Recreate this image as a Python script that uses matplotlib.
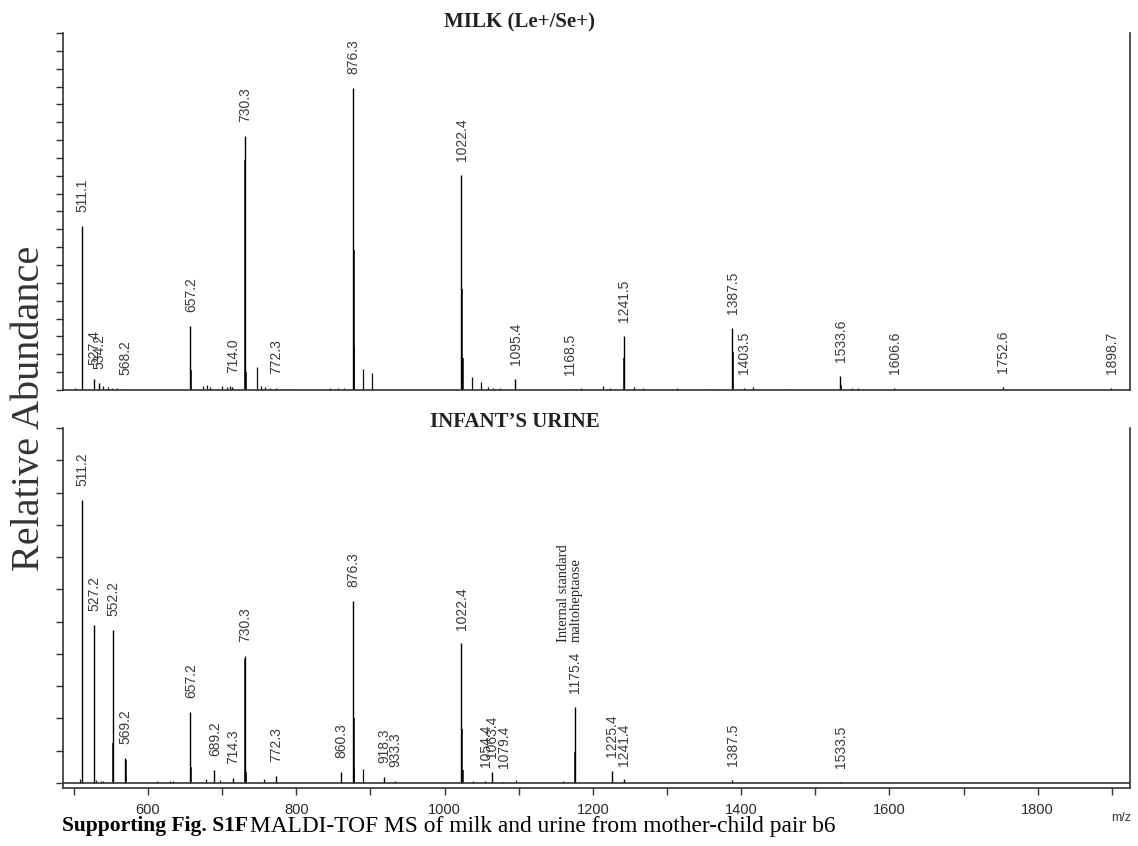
import matplotlib
matplotlib.use('Agg')
import matplotlib.pyplot as plt
from matplotlib.ticker import FixedLocator, MultipleLocator, NullFormatter

# ---- milk (Le+/Se+) spectrum ----
milk_mz = [511.1, 527.4, 534.2, 568.2, 657.2, 714.0, 730.3, 772.3, 876.3, 1022.4,
           1095.4, 1168.5, 1241.5, 1387.5, 1403.5, 1533.6, 1606.6, 1752.6, 1898.7]
milk_int = [0.460, 0.030, 0.020, 0.004, 0.179, 0.008, 0.712, 0.005, 0.845, 0.602,
            0.031, 0.004, 0.151, 0.173, 0.006, 0.039, 0.005, 0.008, 0.006]
milk_iso_mz = [658.2, 731.3, 732.3, 877.3, 878.3, 1023.4, 1024.4, 1242.5, 1388.5, 1534.6]
milk_iso_int = [0.056, 0.644, 0.050, 0.392, 0.120, 0.282, 0.089, 0.089, 0.107, 0.015]
milk_minor_mz = [501, 508, 540, 546, 552, 558, 674, 680, 684, 700, 706, 710, 746.6, 752,
                 758, 765, 782, 798, 846, 856, 864, 890.4, 902.5, 1037.4, 1049.6, 1058,
                 1066, 1075, 1183.7, 1213.7, 1222.7, 1256, 1268, 1313, 1355, 1362, 1370,
                 1415.6, 1460, 1550, 1557]
milk_minor_int = [0.005, 0.004, 0.010, 0.008, 0.006, 0.005, 0.010, 0.015, 0.008, 0.010,
                  0.008, 0.012, 0.065, 0.010, 0.008, 0.006, 0.004, 0.004, 0.005, 0.006,
                  0.006, 0.058, 0.047, 0.037, 0.023, 0.008, 0.007, 0.006, 0.005, 0.012,
                  0.006, 0.008, 0.006, 0.007, 0.004, 0.004, 0.004, 0.008, 0.003, 0.006,
                  0.006]

# ---- infant's urine spectrum ----
urine_mz = [511.2, 527.2, 552.2, 569.2, 657.2, 689.2, 714.3, 730.3, 772.3, 860.3, 876.3,
            918.3, 933.3, 1022.4, 1054.4, 1063.4, 1079.4, 1175.4, 1225.4, 1241.4, 1387.5,
            1533.5]
urine_int = [0.797, 0.445, 0.431, 0.070, 0.199, 0.037, 0.013, 0.359, 0.020, 0.032, 0.514,
             0.018, 0.005, 0.393, 0.006, 0.030, 0.004, 0.215, 0.035, 0.010, 0.008, 0.004]
urine_iso_mz = [553.2, 570.2, 658.2, 731.3, 732.3, 877.3, 878.3, 1023.4, 1024.4, 1176.4]
urine_iso_int = [0.112, 0.065, 0.046, 0.350, 0.030, 0.182, 0.041, 0.151, 0.037, 0.088]
urine_minor_mz = [508, 530, 536, 540, 611.7, 630, 634, 678, 697, 756.5, 890.4, 1038, 1097,
                  1160]
urine_minor_int = [0.010, 0.008, 0.006, 0.005, 0.006, 0.005, 0.005, 0.010, 0.008, 0.012,
                   0.039, 0.006, 0.008, 0.005]

xlim = (485.4, 1924.5)
label_color = '#3a3a3a'

fig = plt.figure(figsize=(11.38, 8.46), dpi=100)
ax_top = fig.add_axes([63 / 1138, 1 - 390 / 846, 1067 / 1138, 357 / 846])
ax_bot = fig.add_axes([63 / 1138, 1 - 788 / 846, 1067 / 1138, 360 / 846])


def draw_spectrum(ax, mz, inten, iso_mz, iso_int, minor_mz, minor_int):
    ax.vlines(minor_mz, 0, minor_int, color='#111111', lw=0.9)
    ax.vlines(iso_mz, 0, iso_int, color='black', lw=1.1)
    ax.vlines(mz, 0, inten, color='black', lw=1.0)
    for m, h in zip(mz, inten):
        ax.annotate(f'{m:.1f}', (m, h), xytext=(0.5, 10), textcoords='offset points',
                    rotation=90, ha='center', va='bottom', fontsize=10,
                    color=label_color, family='Liberation Sans')


def style_axes(ax):
    ax.set_xlim(*xlim)
    ax.spines['top'].set_visible(False)
    for s in ('left', 'right', 'bottom'):
        ax.spines[s].set_color('#333333')
        ax.spines[s].set_linewidth(1.2)
    ax.yaxis.set_major_formatter(NullFormatter())
    ax.tick_params(axis='y', which='both', direction='out', length=5, width=1,
                   color='#333333', right=False)


draw_spectrum(ax_top, milk_mz, milk_int, milk_iso_mz, milk_iso_int,
              milk_minor_mz, milk_minor_int)
style_axes(ax_top)
ax_top.set_ylim(0, 1)
ax_top.yaxis.set_major_locator(FixedLocator([k / 20 for k in range(0, 21, 5)]))
ax_top.yaxis.set_minor_locator(FixedLocator([k / 20 for k in range(21) if k % 5]))
ax_top.tick_params(axis='x', which='both', bottom=False, labelbottom=False)

draw_spectrum(ax_bot, urine_mz, urine_int, urine_iso_mz, urine_iso_int,
              urine_minor_mz, urine_minor_int)
style_axes(ax_bot)
ax_bot.axhline(0, color='#333333', lw=1.2)
ax_bot.set_ylim(-5 / 355, 1.0)
ax_bot.yaxis.set_major_locator(FixedLocator([k / 11 for k in range(0, 12, 2)]))
ax_bot.yaxis.set_minor_locator(FixedLocator([k / 11 for k in range(1, 12, 2)]))
ax_bot.xaxis.set_major_locator(MultipleLocator(200))
ax_bot.xaxis.set_minor_locator(MultipleLocator(100))
ax_bot.tick_params(axis='x', which='both', direction='out', length=5, width=1,
                   color='#333333', labelsize=10.5, labelcolor='#2a2a2a', pad=6)
for t in ax_bot.get_xticklabels():
    t.set_family('Liberation Sans')

ax_bot.text(1169, 0.397, 'Internal standard\nmaltoheptaose', rotation=90,
            ha='center', va='bottom', multialignment='left', fontsize=10.5,
            family='Liberation Serif', color='#222222', linespacing=1.0)

fig.text(520 / 1138, 1 - 22 / 846, 'MILK (Le+/Se+)', ha='center', va='center',
         fontsize=15, fontweight='bold', family='Liberation Serif', color='#222222')
fig.text(515 / 1138, 1 - 422 / 846, 'INFANT\u2019S URINE', ha='center', va='center',
         fontsize=15, fontweight='bold', family='Liberation Serif', color='#222222')
fig.text(30 / 1138, 1 - 408 / 846, 'Relative Abundance', rotation=90, ha='center',
         va='center', fontsize=29, family='Liberation Serif', color='#333333')
fig.text(1121 / 1138, 1 - 818 / 846, 'm/z', ha='center', va='center', fontsize=9,
         family='Liberation Sans', color='#333333')

# caption: bold lead-in followed by regular text
cap_y = 1 - 826 / 846
lead = fig.text(62 / 1138, cap_y, 'Supporting Fig. S1F', ha='left', va='center',
                fontsize=15.5, fontweight='bold', family='Liberation Serif')
renderer = fig.canvas.get_renderer()
bb = lead.get_window_extent(renderer=renderer)
fig.text(bb.x1 / fig.bbox.width + 2 / 1138, cap_y,
         'MALDI-TOF MS of milk and urine from mother-child pair b6', ha='left',
         va='center', fontsize=16.8, family='Liberation Serif')

fig.savefig('out.png', dpi=100)
